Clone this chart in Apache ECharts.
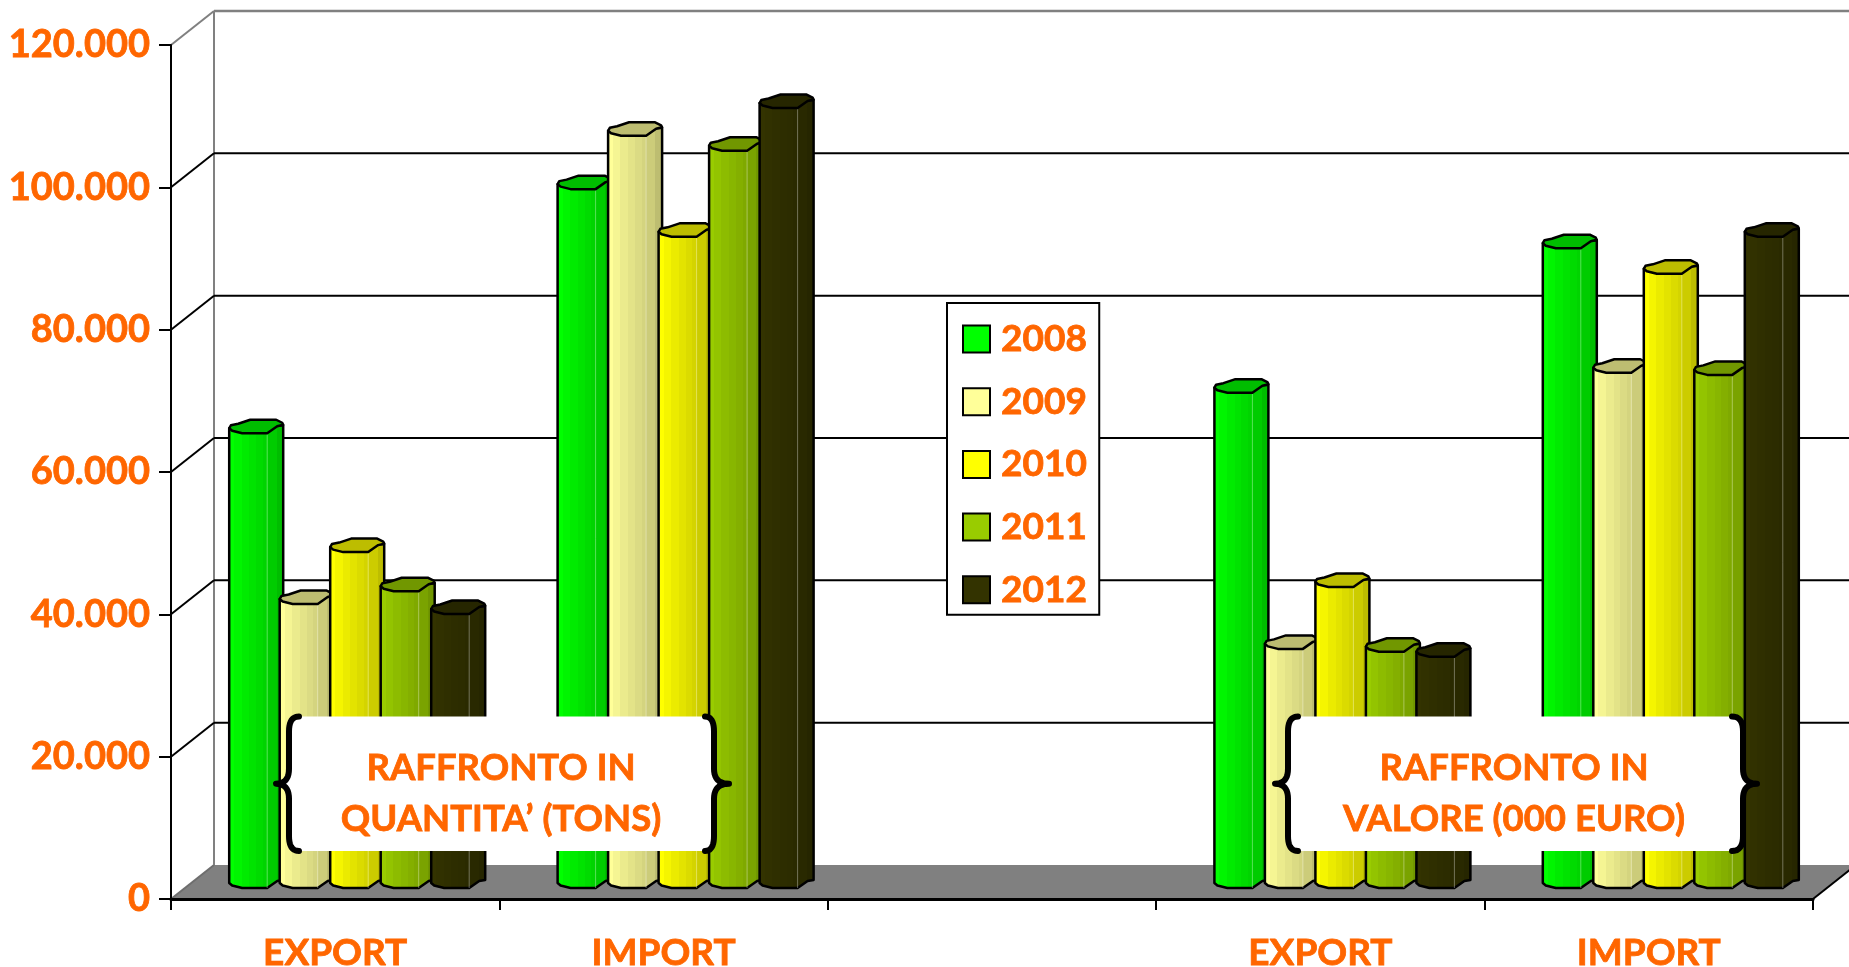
<!DOCTYPE html>
<html>
<head>
<meta charset="utf-8">
<style>html,body{margin:0;padding:0;background:#fff;overflow:hidden}#c{width:1849px;height:967px}</style>
<script src="https://cdn.jsdelivr.net/npm/echarts@6/dist/echarts.min.js"></script>
</head>
<body>
<div id="c"></div>
<script>
const categories = ['EXPORT', 'IMPORT', '', 'EXPORT', 'IMPORT'];
const years = ['2008', '2009', '2010', '2011', '2012'];
const values2008 = [63900, 98200, null, 69600, 89900];
const values2009 = [39900, 105700, null, 33600, 72400];
const values2010 = [47200, 91500, null, 42300, 86300];
const values2011 = [41700, 103600, null, 33200, 72100];
const values2012 = [38500, 109600, null, 32500, 91500];
const yTicks = [0, 20000, 40000, 60000, 80000, 100000, 120000];
const yearColors = ['#00FF00', '#FFFF99', '#FFFF00', '#99CC00', '#333300'];
const note1 = 'RAFFRONTO IN\nQUANTITA\u2019 (TONS)';
const note2 = 'RAFFRONTO IN\nVALORE (000 EURO)';

const allValues = [values2008, values2009, values2010, values2011, values2012];
const FONT = 'Lato, "Open Sans", sans-serif';
const ORANGE = '#FF6600';
const DX = 43, DY = -34;          // depth of the back wall
const BAR_W = 54, BAR_STEP = 50.5, GROUP_SHIFT = -106, BASE_LIFT = 11, FRONT_EDGE = 38;

function shade(hex, f) {
  const n = parseInt(hex.slice(1), 16);
  const c = [n >> 16, (n >> 8) & 255, n & 255].map(v => Math.min(255, Math.round(v * f)));
  return 'rgb(' + c.join(',') + ')';
}
function bands(color) {
  const segs = [[0, .11, 1], [.11, .24, .96], [.24, .38, .92], [.38, .5, .89], [.5, .62, .86], [.62, .7, .83], [.7, .86, .8], [.86, 1, .74]];
  const stops = [];
  segs.forEach(s => { const c = shade(color, s[2]); stops.push({offset: s[0], color: c}, {offset: s[1], color: c}); });
  return {type: 'linear', x: 0, y: 0, x2: 1, y2: 0, colorStops: stops};
}

function renderBar(yearIdx) {
  return function (params, api) {
    const v = api.value(1);
    if (v == null || isNaN(v)) return;
    const cat = api.value(0);
    const base = api.coord([cat, 0]);
    const top = api.coord([cat, v]);
    const L = base[0] + GROUP_SHIFT + yearIdx * BAR_STEP;
    const yB = base[1] - BASE_LIFT;
    const yT = top[1] - BASE_LIFT;
    const color = yearColors[yearIdx];
    const lid = [[0, -5], [1.7, -8], [9, -9.5], [21, -13.5], [47, -13.5], [53, -10.5], [54, -8.5], [48, -7], [FRONT_EDGE, 0], [13, 0], [3, -2.5]]
      .map(p => [L + p[0], yT + p[1]]);
    const body = [[L, yT - 5], [L + BAR_W, yT - 8], [L + BAR_W, yB - 8], [L + 48, yB - 7], [L + FRONT_EDGE, yB], [L + 13, yB], [L + 3, yB - 2.5], [L, yB - 5]];
    return {
      type: 'group',
      children: [
        {type: 'polygon', shape: {points: body}, style: {fill: bands(color), stroke: '#000', lineWidth: 2.5, lineJoin: 'round'}},
        {type: 'line', shape: {x1: L + FRONT_EDGE, y1: yT, x2: L + FRONT_EDGE, y2: yB}, style: {stroke: 'rgba(255,255,255,0.35)', lineWidth: 1}},
        {type: 'polygon', shape: {points: lid}, style: {fill: shade(color, .74), stroke: '#000', lineWidth: 2.5, lineJoin: 'round'}}
      ]
    };
  };
}

function renderFrame(params, api) {
  const v = api.value(1);
  const cs = params.coordSys;
  const left = cs.x, right = cs.x + cs.width;
  const y = api.coord([0, v])[1];
  const isTop = v === yTicks[yTicks.length - 1], isZero = v === 0;
  const gridColor = isTop ? '#808080' : '#000';
  const children = [];
  if (isZero) {
    children.push(
      {type: 'polygon', shape: {points: [[left, y], [right, y], [right + DX, y + DY], [left + DX, y + DY]]}, style: {fill: '#808080'}},
      {type: 'line', shape: {x1: left, y1: y, x2: left + DX, y2: y + DY}, style: {stroke: '#6e6e6e', lineWidth: 2}},
      {type: 'line', shape: {x1: right, y1: y, x2: right + DX, y2: y + DY}, style: {stroke: '#000', lineWidth: 2}},
      {type: 'line', shape: {x1: left + DX, y1: y + DY, x2: left + DX, y2: cs.y + DY}, style: {stroke: '#808080', lineWidth: 2}}
    );
  } else {
    children.push(
      {type: 'line', shape: {x1: left, y1: y, x2: left + DX, y2: y + DY}, style: {stroke: gridColor, lineWidth: 2}},
      {type: 'line', shape: {x1: left + DX, y1: y + DY, x2: right + DX, y2: y + DY}, style: {stroke: gridColor, lineWidth: isTop ? 2.5 : 2}}
    );
  }
  return {type: 'group', children: children};
}

function sampleQuad(p0, c, p1) {
  const out = [];
  for (let i = 0; i <= 10; i++) {
    const t = i / 10, a = (1 - t) * (1 - t), b = 2 * t * (1 - t), d = t * t;
    out.push([a * p0[0] + b * c[0] + d * p1[0], a * p0[1] + b * c[1] + d * p1[1]]);
  }
  return out;
}
function brace(e, m, t, yt, yb) {
  const r = 15, ym = (yt + yb) / 2;
  return [].concat(
    sampleQuad([e, yt], [m, yt], [m, yt + r]),
    sampleQuad([m, ym - r], [m, ym], [t, ym]),
    sampleQuad([t, ym], [m, ym], [m, ym + r]),
    sampleQuad([m, yb - r], [m, yb], [e, yb])
  );
}
function bracePair(lb, rb, cx, text) {
  const yt = 716.5, yb = 851;
  const left = brace(lb[0], lb[1], lb[2], yt, yb);
  const right = brace(rb[0], rb[1], rb[2], yt, yb);
  const outline = left.concat(right.slice().reverse());
  const strokeStyle = {fill: null, stroke: '#000', lineWidth: 6, lineCap: 'round', lineJoin: 'round'};
  return [
    {type: 'polygon', z: 20, shape: {points: outline}, style: {fill: '#fff'}},
    {type: 'polyline', z: 21, shape: {points: left}, style: strokeStyle},
    {type: 'polyline', z: 21, shape: {points: right}, style: strokeStyle},
    {type: 'text', z: 22, x: cx, y: 793.5, style: {text: text, fill: ORANGE, stroke: ORANGE, lineWidth: 0.8, font: 'bold 36.5px ' + FONT, lineHeight: 51, align: 'center', verticalAlign: 'middle'}}
  ];
}

const barSeries = years.map((y, i) => ({
  name: y,
  type: 'custom',
  z: 4,
  itemStyle: {color: yearColors[i]},
  encode: {x: 0, y: 1},
  renderItem: renderBar(i),
  data: allValues[i].map((v, c) => [c, v]).filter(d => d[1] !== null)
}));

const chart = echarts.init(document.getElementById('c'), null, {renderer: 'canvas'});
chart.setOption({
  animation: false,
  backgroundColor: '#fff',
  grid: {left: 171, right: 36, top: 45, bottom: 68, containLabel: false, outerBoundsMode: 'none'},
  xAxis: {
    type: 'category', data: categories, z: 3,
    axisLine: {show: true, lineStyle: {color: '#000', width: 3}},
    axisTick: {show: true, length: 11, lineStyle: {color: '#000', width: 2}},
    axisLabel: {show: true, interval: 0, margin: 36, color: ORANGE, fontFamily: FONT, fontWeight: 'bold', fontSize: 37, textBorderColor: ORANGE, textBorderWidth: 0.8},
    splitLine: {show: false}
  },
  yAxis: {
    type: 'value', min: 0, max: 120000, interval: 20000, z: 3,
    axisLine: {show: true, lineStyle: {color: '#000', width: 2}},
    axisTick: {show: true, length: 12, lineStyle: {color: '#000', width: 2}},
    axisLabel: {margin: 21, color: ORANGE, fontFamily: FONT, fontWeight: 'bold', fontSize: 38, padding: [6, 0, 0, 0], textBorderColor: ORANGE, textBorderWidth: 0.8,
      formatter: v => String(v).replace(/\B(?=(\d{3})+$)/g, '.')},
    splitLine: {show: false}
  },
  legend: {
    show: true, orient: 'vertical', left: 947, top: 303, z: 15,
    selectedMode: false,
    backgroundColor: '#fff', borderColor: '#000', borderWidth: 2,
    padding: [17, 12, 6, 15],
    itemWidth: 27, itemHeight: 27, itemGap: 24.7,
    textStyle: {color: ORANGE, fontFamily: FONT, fontWeight: 'bold', fontSize: 37, lineHeight: 36, padding: [2, 0, 0, 6], textBorderColor: ORANGE, textBorderWidth: 0.8},
    data: years.map((y, i) => ({name: y, icon: 'rect', itemStyle: {color: yearColors[i], borderColor: '#000', borderWidth: 2}}))
  },
  graphic: {
    elements: [].concat(
      bracePair([299, 289, 276], [705, 714, 729], 501, note1),
      bracePair([1298, 1288, 1275], [1732, 1743, 1757], 1514, note2)
    )
  },
  series: [{
    type: 'custom', z: 1, silent: true, encode: {x: 0, y: 1},
    renderItem: renderFrame,
    data: yTicks.map(v => [0, v])
  }].concat(barSeries)
});
</script>
</body>
</html>
